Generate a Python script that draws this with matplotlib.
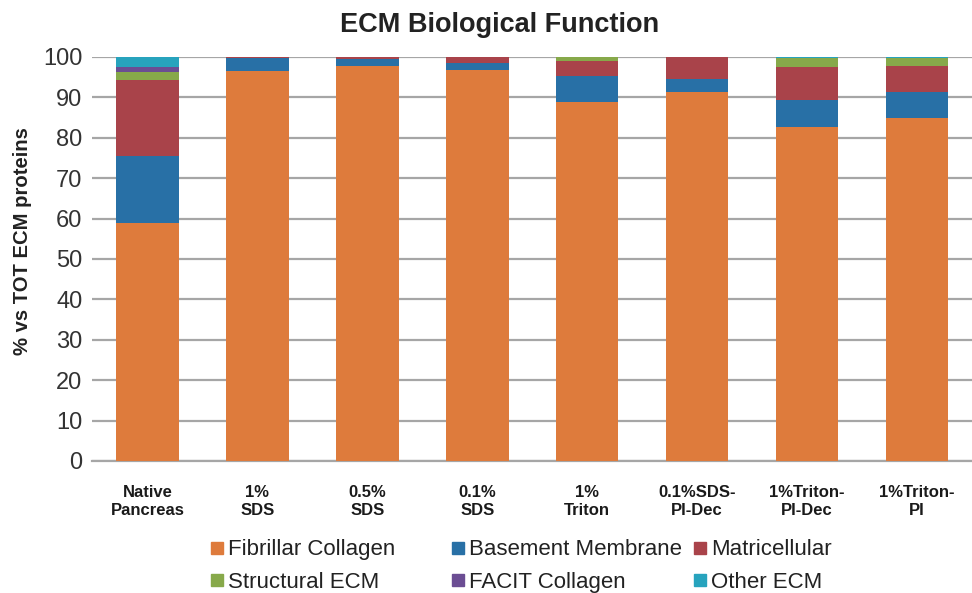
import numpy as np
import matplotlib
matplotlib.use("Agg")
from matplotlib import pyplot as plt
from matplotlib.lines import Line2D

plt.rcParams["font.family"] = ["Liberation Sans", "DejaVu Sans"]

categories = ["Native\nPancreas", "1%\nSDS", "0.5%\nSDS", "0.1%\nSDS",
              "1%\nTriton", "0.1%SDS-\nPI-Dec", "1%Triton-\nPI-Dec", "1%Triton-\nPI"]

fibrillar = [58.8, 96.6, 97.8, 96.8, 88.8, 91.3, 82.6, 84.9]
basement = [16.6, 3.1, 1.7, 1.6, 6.6, 3.3, 6.8, 6.4]
matricellular = [18.8, 0.3, 0.5, 1.6, 3.6, 5.3, 8.0, 6.5]
structural = [2.1, 0.0, 0.0, 0.0, 1.0, 0.1, 2.3, 1.9]
facit = [1.2, 0.0, 0.0, 0.0, 0.0, 0.0, 0.0, 0.0]
other = [2.5, 0.0, 0.0, 0.0, 0.0, 0.0, 0.3, 0.3]

series = [("Fibrillar Collagen", fibrillar, "#DE7B3C"),
          ("Basement Membrane", basement, "#2870A6"),
          ("Matricellular", matricellular, "#A9434A"),
          ("Structural ECM", structural, "#87A94A"),
          ("FACIT Collagen", facit, "#6B4D93"),
          ("Other ECM", other, "#27A3BD")]

fig = plt.figure(figsize=(9.72, 5.93), dpi=100)
ax = fig.add_axes([0.095, 0.2226, 0.905, 0.6814])

x = np.arange(len(categories))
bottom = np.zeros(len(categories))
for name, vals, col in series:
    ax.bar(x, vals, 0.57, bottom=bottom, color=col, label=name, zorder=3)
    bottom += np.array(vals)

ax.set_xlim(-0.5, 7.5)
ax.set_ylim(0, 100)
ax.set_yticks(range(0, 101, 10))
ax.yaxis.grid(True, color="#A6A6A6", lw=1.6, zorder=0)
for s in ["top", "right", "left"]:
    ax.spines[s].set_visible(False)
ax.spines["bottom"].set_color("#A6A6A6")
ax.spines["bottom"].set_linewidth(1.6)
ax.tick_params(axis="y", length=0, labelsize=17, labelcolor="#333333", pad=7)
ax.tick_params(axis="x", length=0, pad=17)
ax.set_xticks(x)
ax.set_xticklabels(categories, fontsize=12, fontweight="bold", color="#1a1a1a",
                   linespacing=1.3)

# y label sits a little above the axes centre in the original
fig.text(0.023, 0.594, "% vs TOT ECM proteins", rotation=90, ha="center", va="center",
         fontsize=14.6, fontweight="bold", color="#222222")
fig.text(0.514, 0.957, "ECM Biological Function", ha="center", va="center",
         fontsize=19.5, fontweight="bold", color="#222222")

# legend columns are laid out unevenly in the original, so one legend per column
col_x = [0.215, 0.463, 0.712]
for i, cx in enumerate(col_x):
    pair = [series[i], series[i + 3]]
    hs = [Line2D([], [], marker="s", ls="", color=c, markersize=8.5) for _, _, c in pair]
    leg = fig.legend(hs, [n for n, _, _ in pair], loc="center left",
                     bbox_to_anchor=(cx, 0.0455), frameon=False, fontsize=16,
                     handletextpad=0.1, handlelength=0.75, labelspacing=0.5,
                     borderpad=0, borderaxespad=0)
    for t in leg.get_texts():
        t.set_color("#222222")

fig.savefig("out.png", dpi=100)
